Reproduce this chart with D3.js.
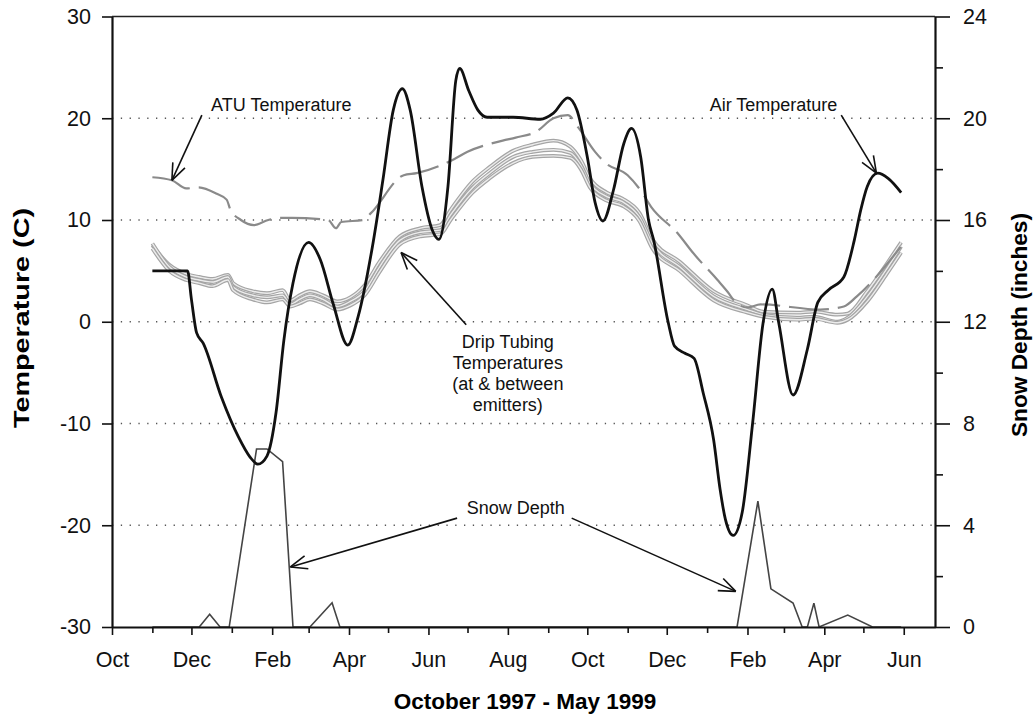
<!DOCTYPE html>
<html>
<head>
<meta charset="utf-8">
<script src="https://cdn.jsdelivr.net/npm/d3@7"></script>
<style>
body { margin: 0; background: #fff; }
svg { font-family: "Liberation Sans", Arial, sans-serif; }
</style>
</head>
<body>
<svg class="chart" width="1034" height="719"></svg>
<script>
// air temperature (C)
var airDates = ["1997-11-01","1997-11-28","1997-12-01","1997-12-05","1997-12-10","1997-12-24","1998-01-06","1998-01-15","1998-01-21","1998-01-28","1998-02-04","1998-02-10","1998-02-17","1998-03-01","1998-03-10","1998-03-20","1998-03-31","1998-04-08","1998-04-19","1998-04-27","1998-05-05","1998-05-12","1998-05-18","1998-05-27","1998-06-04","1998-06-09","1998-06-16","1998-06-22","1998-06-25","1998-07-02","1998-07-09","1998-07-16","1998-08-05","1998-08-26","1998-09-05","1998-09-16","1998-09-23","1998-10-01","1998-10-07","1998-10-13","1998-10-21","1998-10-29","1998-11-04","1998-11-11","1998-11-17","1998-11-21","1998-12-02","1998-12-07","1998-12-15","1998-12-22","1998-12-29","1999-01-06","1999-01-11","1999-01-15","1999-01-21","1999-01-28","1999-02-05","1999-02-13","1999-02-20","1999-02-25","1999-03-08","1999-03-19","1999-03-27","1999-04-04","1999-04-16","1999-04-24","1999-04-29","1999-05-04","1999-05-12","1999-05-20","1999-05-30"];
var airTemp = [5.0,5.0,2.2,-1.1,-2.1,-7.4,-11.3,-13.3,-14.0,-13.2,-8.9,-1.8,3.8,7.8,6.1,1.7,-2.3,0.5,7.4,13.9,20.8,22.9,20.8,13.3,9.0,8.1,13.3,23.7,24.9,22.7,20.8,20.1,20.1,19.9,20.5,22.0,20.8,16.2,11.7,9.9,12.9,17.5,19.0,16.2,10.0,8.0,0.0,-2.4,-3.1,-3.6,-7.0,-11.6,-16.5,-19.4,-21.0,-18.7,-9.9,-0.1,3.2,-0.1,-7.2,-2.7,1.9,3.1,4.4,8.0,11.0,13.3,14.6,14.1,12.7];

// ATU temperature (C), dashed
var atuDates = ["1997-11-01","1997-11-16","1997-11-27","1997-12-06","1997-12-20","1997-12-28","1997-12-31","1998-01-08","1998-01-18","1998-01-29","1998-02-06","1998-02-16","1998-03-16","1998-03-22","1998-03-26","1998-04-12","1998-04-18","1998-05-13","1998-05-23","1998-06-21","1998-07-01","1998-07-28","1998-08-07","1998-08-23","1998-09-05","1998-09-16","1998-09-24","1998-10-07","1998-10-15","1998-11-01","1998-11-11","1998-11-19","1998-12-10","1998-12-21","1999-01-09","1999-01-17","1999-01-23","1999-02-01","1999-02-11","1999-03-29","1999-04-16","1999-04-26","1999-05-30"];
var atuTemp = [14.2,13.9,13.1,13.2,12.6,12.0,11.0,10.0,9.5,10.0,10.2,10.2,10.0,9.2,9.8,10.0,10.7,14.4,14.6,16.0,16.7,17.8,18.1,18.7,20.0,20.3,19.1,16.7,15.6,14.4,12.9,11.3,8.6,6.8,4.1,2.9,1.9,1.4,1.7,1.2,1.5,2.5,7.4];

// drip tubing temperatures (C), three sensors
var dripDates = ["1997-11-01","1997-11-14","1997-11-27","1997-12-07","1997-12-17","1997-12-29","1998-01-02","1998-01-17","1998-01-28","1998-02-09","1998-02-15","1998-02-22","1998-03-02","1998-03-12","1998-03-23","1998-04-02","1998-04-13","1998-04-25","1998-05-10","1998-05-26","1998-06-10","1998-06-18","1998-07-05","1998-07-18","1998-08-05","1998-08-20","1998-09-05","1998-09-18","1998-09-26","1998-10-03","1998-10-16","1998-10-28","1998-11-10","1998-11-20","1998-12-11","1999-01-06","1999-02-01","1999-02-13","1999-03-11","1999-03-24","1999-04-11","1999-04-19","1999-05-04","1999-05-20","1999-05-30"];
var dripA = [7.5,5.6,4.7,4.4,4.2,4.6,3.8,3.0,2.8,3.1,2.1,2.6,3.0,2.6,2.0,2.4,3.6,6.0,8.4,9.2,9.5,11.0,13.8,15.2,16.8,17.4,17.8,17.2,15.9,14.1,12.7,12.1,10.7,8.1,5.9,3.0,1.6,1.0,0.9,1.0,0.7,0.8,3.0,5.9,7.8];
var dripB = [7.7,5.4,4.4,4.1,3.9,4.4,3.4,2.6,2.4,2.6,1.7,2.2,2.6,2.2,1.5,2.0,3.0,5.5,8.0,8.8,9.0,10.5,13.2,14.6,16.2,16.7,16.9,16.6,15.4,13.6,12.3,11.8,10.3,7.7,5.4,2.5,1.2,0.7,0.4,0.5,0.0,0.4,2.5,5.4,7.4];
var dripC = [7.2,5.0,4.1,3.8,3.5,4.1,3.1,2.2,1.9,2.2,1.5,1.8,2.2,1.8,1.2,1.6,2.6,5.0,7.6,8.4,8.6,10.0,12.7,14.1,15.6,16.2,16.3,16.1,15.0,13.2,11.9,11.4,9.9,7.2,5.0,2.1,0.9,0.5,0.2,0.3,-0.1,0.2,2.0,4.9,6.8];

// snow depth (inches), right axis
var snowDates = ["1997-11-01","1997-12-07","1997-12-15","1997-12-23","1997-12-30","1998-01-20","1998-01-28","1998-02-09","1998-02-17","1998-03-02","1998-03-19","1998-03-25","1999-01-24","1999-02-09","1999-02-19","1999-03-08","1999-03-15","1999-03-19","1999-03-24","1999-03-28","1999-04-19","1999-05-08","1999-05-30"];
var snowDepth = [0,0,0.5,0,0,7.0,7.0,6.5,0,0,0.95,0,0,4.95,1.5,0.94,0,0,0.94,0,0.47,0,0];

// axis ticks
var tempTicks = [-30,-20,-10,0,10,20,30];
var gridTicks = [-20,-10,0,10,20];
var snowTicks = [0,4,8,12,16,20,24];
var snowMinor = [2,6,10,14,18,22];

// annotations: text anchor and arrows, in data units [date, temperature C]
var notes = [
  {lines: ["ATU Temperature"], at: ["1998-02-08", 20.7], arrows: [[["1997-12-09", 20.3], ["1997-11-16", 13.9]]]},
  {lines: ["Air Temperature"], at: ["1999-02-21", 20.7], arrows: [[["1999-04-14", 20.3], ["1999-05-11", 14.6]]]},
  {lines: ["Drip Tubing", "Temperatures", "(at & between", "emitters)"], at: ["1998-08-01", -2.6], arrows: [[["1998-06-30", -0.3], ["1998-05-11", 6.8]]]},
  {lines: ["Snow Depth"], at: ["1998-08-07", -18.9], arrows: [[["1998-06-23", -19.3], ["1998-02-15", -24.1]], [["1998-09-19", -19.3], ["1999-01-23", -26.5]]]}
];

var parse = d3.timeParse("%Y-%m-%d");
var svg = d3.select('.chart');

var x = d3.scaleTime().domain([parse("1997-10-01"), parse("1999-06-25")]).range([112, 935]);
var yT = d3.scaleLinear().domain([-30, 30]).range([627, 16.5]);
var yS = d3.scaleLinear().domain([0, 24]).range([627, 16.5]);

function pairs(dates, vals) {
  return dates.map(function(d, i) { return [parse(d), vals[i]]; });
}
// plain hyphen for negatives, like the original
function num(d) { return String(d); }

// dotted grid
svg.append('g').selectAll('line').data(gridTicks).enter().append('line')
  .attr('x1', 112).attr('x2', 935)
  .attr('y1', function(d) { return yT(d); }).attr('y2', function(d) { return yT(d); })
  .attr('stroke', '#555').attr('stroke-width', 1.3).attr('stroke-dasharray', '1.3,7.5');

// top frame line
svg.append('line').attr('x1', 112).attr('x2', 935).attr('y1', yT(30)).attr('y2', yT(30))
  .attr('stroke', '#222').attr('stroke-width', 1.6);

var tline = d3.line().x(function(d) { return x(d[0]); }).y(function(d) { return yT(d[1]); }).curve(d3.curveMonotoneX);
var sline = d3.line().x(function(d) { return x(d[0]); }).y(function(d) { return yS(d[1]); });

// drip tubing bundle: gray outline with light core
[dripA, dripB, dripC].forEach(function(vals) {
  var p = tline(pairs(dripDates, vals));
  svg.append('path').attr('d', p).attr('fill', 'none').attr('stroke', '#a5a5a5').attr('stroke-width', 3.8);
  svg.append('path').attr('d', p).attr('fill', 'none').attr('stroke', '#ececec').attr('stroke-width', 1.4);
});

svg.append('path').attr('d', tline(pairs(atuDates, atuTemp)))
  .attr('fill', 'none').attr('stroke', '#8a8a8a').attr('stroke-width', 2.2).attr('stroke-dasharray', '40,9');

svg.append('path').attr('d', sline(pairs(snowDates, snowDepth)))
  .attr('fill', 'none').attr('stroke', '#444').attr('stroke-width', 1.6);

svg.append('path').attr('d', tline(pairs(airDates, airTemp)))
  .attr('fill', 'none').attr('stroke', '#111').attr('stroke-width', 2.8);

// axes
var months = d3.timeMonth.range(parse("1997-10-01"), parse("1999-06-02"));
var mfmt = d3.timeFormat("%b");
var gx = svg.append('g').attr('transform', 'translate(0,627)')
  .call(d3.axisBottom(x).tickValues(months).tickSize(8).tickSizeOuter(0).tickPadding(17)
    .tickFormat(function(d) { return d.getMonth() % 2 == 1 ? mfmt(d) : ""; }));
gx.selectAll('.tick line').filter(function(d) { return d.getMonth() % 2 == 0; }).attr('y2', 6);

var gl = svg.append('g').attr('transform', 'translate(112,0)')
  .call(d3.axisLeft(yT).tickValues(tempTicks).tickFormat(num).tickSize(10).tickSizeOuter(0).tickPadding(11));

var gr = svg.append('g').attr('transform', 'translate(935,0)')
  .call(d3.axisRight(yS).tickValues(snowTicks).tickFormat(num).tickSize(15).tickSizeOuter(0).tickPadding(13));
svg.append('g').attr('transform', 'translate(935,0)')
  .call(d3.axisRight(yS).tickValues(snowMinor).tickSize(8).tickSizeOuter(0).tickFormat(""))
  .select('.domain').remove();

svg.selectAll('.domain').attr('stroke', '#111').attr('stroke-width', 2.2);
svg.selectAll('.tick line').attr('stroke', '#111').attr('stroke-width', 1.6);
svg.selectAll('.tick text').attr('font-size', '21.5px').attr('fill', '#111')
  .attr('font-family', '"Liberation Sans", Arial, sans-serif');

// axis titles
svg.append('text').attr('transform', 'translate(29,318) rotate(-90)')
  .attr('text-anchor', 'middle').attr('font-size', '22px').attr('font-weight', 'bold')
  .attr('textLength', 220).attr('lengthAdjust', 'spacingAndGlyphs').text('Temperature (C)');
svg.append('text').attr('transform', 'translate(1027,325) rotate(-90)')
  .attr('text-anchor', 'middle').attr('font-size', '22px').attr('font-weight', 'bold')
  .attr('textLength', 224).attr('lengthAdjust', 'spacingAndGlyphs').text('Snow Depth (inches)');
svg.append('text').attr('x', 525).attr('y', 709)
  .attr('text-anchor', 'middle').attr('font-size', '22.5px').attr('font-weight', 'bold')
  .text('October 1997 - May 1999');

// annotations with open arrowheads
var ann = svg.append('g');
notes.forEach(function(n) {
  var t = ann.append('text').attr('text-anchor', 'middle').attr('font-size', '18px').attr('fill', '#111');
  n.lines.forEach(function(s, i) {
    t.append('tspan').attr('x', x(parse(n.at[0]))).attr('y', yT(n.at[1]) + i * 21).text(s);
  });
  n.arrows.forEach(function(a) {
    var x1 = x(parse(a[0][0])), y1 = yT(a[0][1]), x2 = x(parse(a[1][0])), y2 = yT(a[1][1]);
    ann.append('line').attr('x1', x1).attr('y1', y1).attr('x2', x2).attr('y2', y2)
      .attr('stroke', '#111').attr('stroke-width', 1.6);
    var ang = Math.atan2(y1 - y2, x1 - x2);
    [-0.38, 0.38].forEach(function(da) {
      ann.append('line').attr('x1', x2).attr('y1', y2)
        .attr('x2', x2 + 18 * Math.cos(ang + da)).attr('y2', y2 + 18 * Math.sin(ang + da))
        .attr('stroke', '#111').attr('stroke-width', 1.6);
    });
  });
});
</script>
</body>
</html>
